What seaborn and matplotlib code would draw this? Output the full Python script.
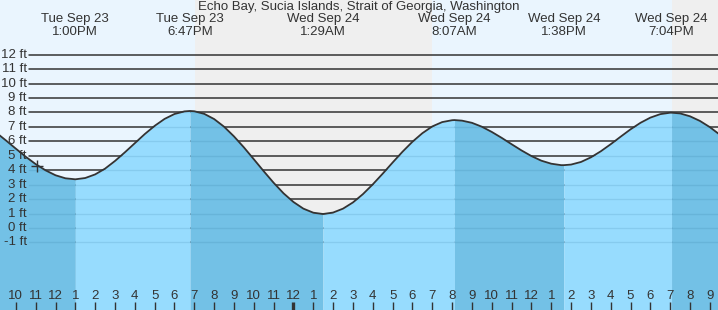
import numpy as np
import pandas as pd
import matplotlib
matplotlib.use("Agg")
import matplotlib.pyplot as plt
import matplotlib.transforms as mtrans
import seaborn as sns

# hours relative to midnight Wed Sep 24, tide height in ft
tide_hours = [-15.0, -14.5, -14.0, -13.5, -13.0, -12.5, -12.0, -11.5, -11.0,
              -10.5, -10.0, -9.5, -9.0, -8.5, -8.0, -7.5, -7.0, -6.5, -6.0, -5.5, -5.217,
              -5.0, -4.5, -4.0, -3.5, -3.0, -2.5, -2.0, -1.5, -1.0, -0.5, 0.0, 0.5, 1.0, 1.483,
              1.5, 2.0, 2.5, 3.0, 3.5, 4.0, 4.5, 5.0, 5.5, 6.0, 6.5, 7.0, 7.5, 8.0, 8.117,
              8.5, 9.0, 9.5, 10.0, 10.5, 11.0, 11.5, 12.0, 12.5, 13.0, 13.5, 13.633,
              14.0, 14.5, 15.0, 15.5, 16.0, 16.5, 17.0, 17.5, 18.0, 18.5, 19.0, 19.067,
              19.5, 20.0, 20.5, 21.0, 21.5]
tide_ft = [6.61, 6.06, 5.49, 4.93, 4.42, 3.99, 3.65, 3.44, 3.37,
           3.46, 3.71, 4.11, 4.64, 5.24, 5.87, 6.50, 7.07, 7.55, 7.89, 8.07, 8.10,
           8.08, 7.90, 7.54, 7.01, 6.34, 5.58, 4.76, 3.93, 3.13, 2.40, 1.80, 1.34, 1.06, 0.97,
           0.97, 1.07, 1.34, 1.77, 2.34, 3.02, 3.76, 4.53, 5.28, 5.97, 6.56, 7.03, 7.33, 7.46, 7.47,
           7.43, 7.28, 7.01, 6.65, 6.24, 5.80, 5.37, 4.98, 4.66, 4.45, 4.35, 4.35,
           4.39, 4.57, 4.89, 5.31, 5.80, 6.32, 6.83, 7.28, 7.64, 7.88, 7.98, 7.98,
           7.93, 7.73, 7.41, 6.98, 6.46]

extreme_hours = [-11.0, -5.217, 1.483, 8.117, 13.633, 19.067]
extreme_kind = ["low", "high", "low", "high", "low", "high"]
extreme_days = ["Tue Sep 23", "Tue Sep 23", "Wed Sep 24", "Wed Sep 24", "Wed Sep 24", "Wed Sep 24"]
extreme_times = ["1:00PM", "6:47PM", "1:29AM", "8:07AM", "1:38PM", "7:04PM"]

sunset_1 = -4.97
sunrise = 6.98
sunset_2 = 19.07

now_hour = -12.93
now_ft = 4.3

ft_levels = list(range(-1, 13))
title = "Echo Bay, Sucia Islands, Strait of Georgia, Washington"

x_min, x_max = -14.8, 21.41
y_min, y_max = -5.675, 15.78

day_col = "#eaf5fe"
night_col = "#efefef"
rise_col = "#97dcfe"
fall_col = "#73c1e6"
ink = "#333333"
fs = 9.5

sns.set_style("white")
plt.rcParams["font.family"] = ["Liberation Sans", "DejaVu Sans"]

df = pd.DataFrame({"hour": tide_hours, "ft": tide_ft})

fig = plt.figure(figsize=(7.18, 3.10), dpi=100)
ax = fig.add_axes([0, 0, 1, 1])
ax.set_xlim(x_min, x_max)
ax.set_ylim(y_min, y_max)
ax.axis("off")

# day / night bands
ax.axvspan(x_min, sunset_1, color=day_col, lw=0, zorder=0)
ax.axvspan(sunset_1, sunrise, color=night_col, lw=0, zorder=0)
ax.axvspan(sunrise, sunset_2, color=day_col, lw=0, zorder=0)
ax.axvspan(sunset_2, x_max, color=night_col, lw=0, zorder=0)

# grid lines above the water
for lv in ft_levels:
    ax.axhline(lv, xmin=29 / 718, xmax=1, color=ink, lw=1.1, zorder=1)

# water: falling tide darker, rising tide lighter
bounds = [df["hour"].min()] + extreme_hours + [df["hour"].max()]
kinds_after = ["high"] + extreme_kind
for i in range(len(bounds) - 1):
    seg = df[(df["hour"] >= bounds[i]) & (df["hour"] <= bounds[i + 1])]
    col = fall_col if kinds_after[i] == "high" else rise_col
    ax.fill_between(seg["hour"], seg["ft"], y_min, color=col, lw=0, zorder=2)

# faint grid lines under the water
water = ax.fill_between(df["hour"], df["ft"], y_min, color="none", lw=0)
clip = water.get_paths()[0]
for lv in ft_levels:
    ln = ax.axhline(lv, xmin=29 / 718, xmax=1, color="#1b5d85", alpha=0.13, lw=1.0, zorder=3)
    ln.set_clip_path(clip, ax.transData)

sns.lineplot(data=df, x="hour", y="ft", ax=ax, color=ink, lw=1.3, zorder=4)
ax.plot([now_hour], [now_ft], marker="+", ms=9, mew=1.0, color=ink, zorder=5)

# labels
ytr = mtrans.blended_transform_factory(ax.transAxes, ax.transData)
for lv in ft_levels:
    ax.text(27 / 718, lv, f"{lv} ft", transform=ytr, ha="right", va="center",
            fontsize=fs, color=ink, zorder=6)

xtr = mtrans.blended_transform_factory(ax.transData, ax.transAxes)
for h in range(int(np.ceil(x_min)), int(np.floor(x_max)) + 1):
    lab = h % 12 or 12
    ax.text(h, 14 / 310, str(lab), transform=xtr, ha="center", va="center",
            fontsize=fs, color=ink, zorder=6)
    ax.plot([h, h], [0, 8 / 310], transform=xtr, color=ink,
            lw=2.4 if h == 0 else 1.0, solid_capstyle="butt", zorder=6)

for h, d, t in zip(extreme_hours, extreme_days, extreme_times):
    ax.text(h, 1 - 19 / 310, d, transform=xtr, ha="center", va="center",
            fontsize=fs, color=ink, zorder=6)
    ax.text(h, 1 - 32 / 310, t, transform=xtr, ha="center", va="center",
            fontsize=fs, color=ink, zorder=6)

ax.text(0.5, 1 - 7 / 310, title, transform=ax.transAxes, ha="center", va="center",
        fontsize=fs, color=ink, zorder=6)

fig.savefig("out.png", dpi=100)
